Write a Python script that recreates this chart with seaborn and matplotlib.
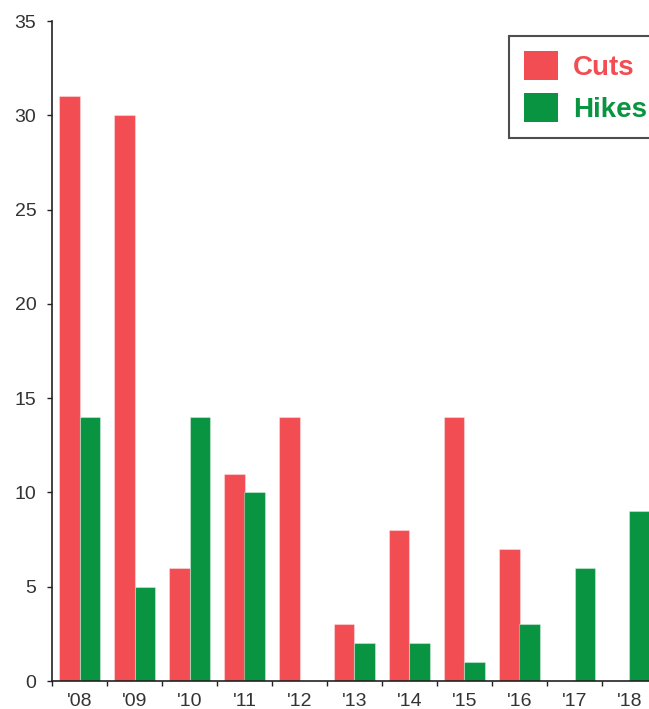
import matplotlib
matplotlib.use("Agg")
import matplotlib.pyplot as plt
import seaborn as sns
import pandas as pd
from matplotlib.patches import Patch

years = ["'08", "'09", "'10", "'11", "'12", "'13", "'14", "'15", "'16", "'17", "'18"]
cuts = [31, 30, 6, 11, 14, 3, 8, 14, 7, 0, 0]
hikes = [14, 5, 14, 10, 0, 2, 2, 1, 3, 6, 9]
series = ["Cuts", "Hikes"]
colors = {"Cuts": "#F24D53", "Hikes": "#089440"}

df = pd.DataFrame({
    "year": years * 2,
    "value": cuts + hikes,
    "series": ["Cuts"] * len(years) + ["Hikes"] * len(years),
})

sns.set_style("white")
plt.rcParams["font.family"] = ["Liberation Sans", "DejaVu Sans"]

W, H = 649, 709
fig = plt.figure(figsize=(W / 100, H / 100), dpi=100)
ax = fig.add_axes([52 / W, (H - 681) / H, 605 / W, 660 / H])

sns.barplot(data=df, x="year", y="value", hue="series", order=years,
            hue_order=series, palette=colors, width=0.76, ax=ax,
            saturation=1, edgecolor="none", linewidth=0, legend=False)
for p in ax.patches:
    p.set_edgecolor((1, 1, 1, 0.35))
    p.set_linewidth(0.8)

ax.set_xlim(-0.5, len(years) - 0.5)
ax.set_ylim(0, 35)
ax.set_yticks(range(0, 36, 5))
ax.set_xlabel("")
ax.set_ylabel("")

# major ticks at category boundaries, labels at centres via minor ticks
ax.set_xticks([i - 0.5 for i in range(len(years) + 1)])
ax.set_xticklabels([])
ax.set_xticks(range(len(years)), minor=True)
ax.set_xticklabels(years, minor=True)
ax.tick_params(axis="x", which="major", bottom=True, length=3.8, width=1,
               color="#222222", direction="out")
ax.tick_params(axis="x", which="minor", bottom=True, length=0, pad=8.5,
               labelsize=14, labelcolor="#333333")
ax.tick_params(axis="y", which="major", left=True, length=3.8, width=1, color="#222222",
               pad=7.5, labelsize=14, labelcolor="#333333", direction="out")

for s in ["top", "right"]:
    ax.spines[s].set_visible(False)
for s in ["left", "bottom"]:
    ax.spines[s].set_color("#222222")
    ax.spines[s].set_linewidth(1.2)

handles = [Patch(facecolor=colors[s], edgecolor="none") for s in series]
leg = fig.legend(handles, series, loc="upper left",
                 bbox_to_anchor=(509 / W, 1 - 36 / H),
                 prop={"weight": "bold", "size": 20},
                 frameon=True, fancybox=False, edgecolor="#222222",
                 handlelength=1.2, handleheight=1.2, handletextpad=0.55,
                 labelspacing=0.45, borderpad=0.55, borderaxespad=0)
leg.get_frame().set_linewidth(1.5)
for t, s in zip(leg.get_texts(), series):
    t.set_color(colors[s])

fig.savefig("out.png", dpi=100)
